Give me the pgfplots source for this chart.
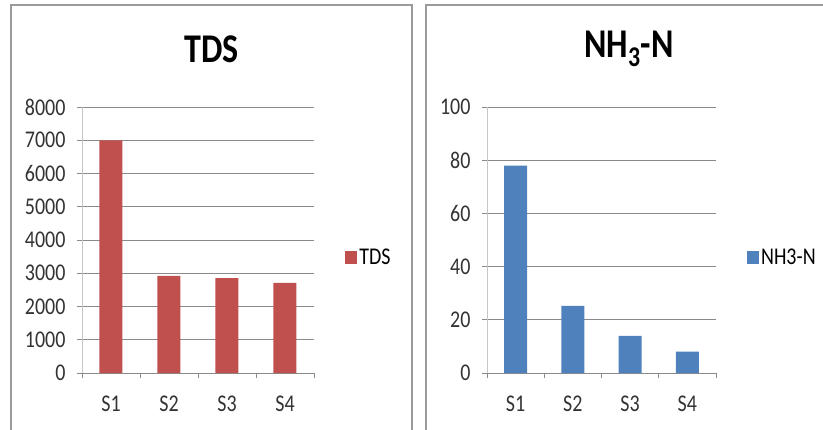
\documentclass[border=0pt]{standalone}
\usepackage{pgfplots}
\pgfplotsset{compat=1.18}
\usepackage{fontspec}
\setmainfont{Carlito}
\definecolor{barred}{HTML}{C0504D}
\definecolor{barblue}{HTML}{4F81BD}
\definecolor{gridc}{HTML}{8A8A8A}
\definecolor{framec}{HTML}{9A9A9A}
\newcommand{\st}[1]{\scalebox{1}[1.2]{#1}}
\pgfplotsset{
  panel/.style={
    scale only axis,
    height=266pt,
    ymin=0,
    xmin=0.5, xmax=4.5,
    axis x line*=bottom,
    axis y line*=left,
    x axis line style={draw=gridc, line width=0.8pt, -},
    y axis line style={draw=gray!45, line width=0.8pt, -},
    xtick={1,2,3,4},
    xticklabels={\st{S1},\st{S2},\st{S3},\st{S4}},
    minor xtick={0.5,1.5,2.5,3.5,4.5},
    major x tick style={draw=none},
    minor x tick style={draw=gridc, line width=0.8pt},
    minor tick length=5pt,
    major tick length=5pt,
    tick align=outside,
    y tick style={draw=gridc, line width=0.8pt},
    ymajorgrids,
    grid style={draw=gridc, line width=0.8pt},
    tick label style={font=\fontsize{20}{20}\selectfont, text=black!80},
    /pgf/number format/assume math mode=true,
    /pgf/number format/1000 sep={},
    scaled y ticks=false,
    yticklabel={\st{\pgfmathprintnumber{\tick}}},
    xticklabel style={yshift=-14pt},
    yticklabel style={xshift=-8pt},
    ybar, bar width=23pt,
    legend style={draw=none, fill=none, anchor=west,
      font=\fontsize{20}{20}\selectfont, inner sep=0pt},
    legend image code/.code={\fill[##1, draw=none] (0pt,-6.5pt) rectangle (12pt,6.5pt);},
    clip=false,
  }
}
\begin{document}
\begin{tikzpicture}[x=1pt,y=1pt]
\useasboundingbox (0,0) rectangle (823,429);
\draw[framec, line width=2.5pt] (11,-5) -- (11,424) -- (412,424) -- (412,-5);
\draw[framec, line width=2.5pt] (426,-5) -- (426,424) -- (830,424);
\begin{axis}[panel, at={(82pt,56pt)}, anchor=south west, width=232pt,
  ymax=8000, ytick={0,1000,...,8000},
  title={\st{\bfseries TDS}},
  title style={at={(0.56,1)}, anchor=center, yshift=52pt, font=\fontsize{34}{34}\selectfont},
  legend style={at={(1.134,0.436)}}]
\addplot[fill=barred, draw=none] coordinates {(1,7000) (2,2920) (3,2850) (4,2710)};
\addlegendentry{\st{TDS}}
\end{axis}
\begin{axis}[panel, at={(487pt,56pt)}, anchor=south west, width=229pt,
  ymax=100, ytick={0,20,...,100},
  title={\st{\bfseries NH\textsubscript{3}-N}},
  title style={at={(0.62,1)}, anchor=center, yshift=52pt, font=\fontsize{34}{34}\selectfont},
  legend style={at={(1.135,0.436)}}]
\addplot[fill=barblue, draw=none] coordinates {(1,78) (2,25.2) (3,14) (4,8)};
\addlegendentry{\st{NH3-N}}
\end{axis}
\end{tikzpicture}
\end{document}
